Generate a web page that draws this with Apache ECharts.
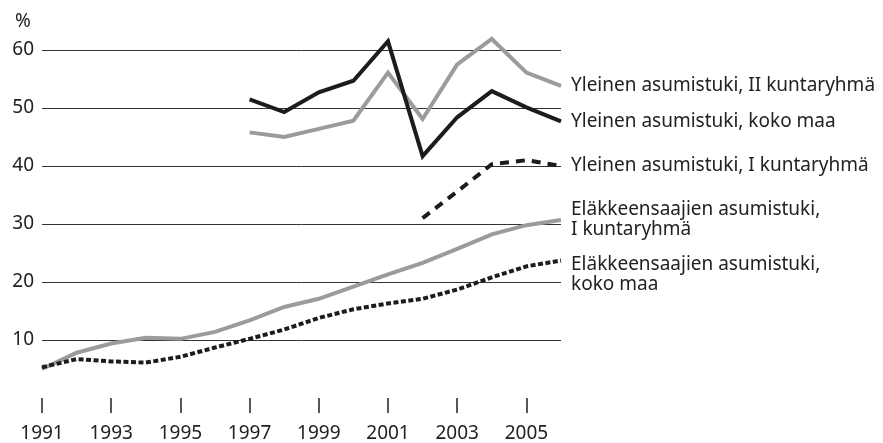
<!DOCTYPE html>
<html>
<head>
<meta charset="utf-8">
<script src="https://cdn.jsdelivr.net/npm/echarts@6/dist/echarts.min.js"></script>
<style>
  html, body { margin: 0; padding: 0; background: #fff; }
  #chart { width: 883px; height: 443px; }
</style>
</head>
<body>
<div id="chart"></div>
<script>
const years = ['1991', '1992', '1993', '1994', '1995', '1996', '1997', '1998',
  '1999', '2000', '2001', '2002', '2003', '2004', '2005', '2006']

// Yleinen asumistuki, II kuntaryhmä
const yleinenII = ['-', '-', '-', '-', '-', '-', 45.8, 45.0, 46.4, 47.8, 56.1, 48.1, 57.5, 61.9, 56.1, 53.8]
// Yleinen asumistuki, koko maa
const yleinenKoko = ['-', '-', '-', '-', '-', '-', 51.5, 49.3, 52.7, 54.7, 61.5, 41.7, 48.4, 52.9, 50.1, 47.7]
// Yleinen asumistuki, I kuntaryhmä
const yleinenI = ['-', '-', '-', '-', '-', '-', '-', '-', '-', '-', '-', 31.0, 35.6, 40.3, 41.0, 40.0]
// Eläkkeensaajien asumistuki, I kuntaryhmä
const elakeI = [5.0, 7.8, 9.4, 10.4, 10.2, 11.4, 13.4, 15.7, 17.1, 19.2, 21.3, 23.3, 25.7, 28.2, 29.8, 30.7]
// Eläkkeensaajien asumistuki, koko maa
const elakeKoko = [5.3, 6.7, 6.3, 6.1, 7.1, 8.7, 10.2, 11.8, 13.8, 15.3, 16.3, 17.1, 18.7, 20.8, 22.7, 23.7]

const yTicks = [0, 60, 10]

const names = [
  'Yleinen asumistuki, II kuntaryhmä',
  'Yleinen asumistuki, koko maa',
  'Yleinen asumistuki, I kuntaryhmä',
  'Eläkkeensaajien asumistuki,\nI kuntaryhmä',
  'Eläkkeensaajien asumistuki,\nkoko maa'
]

const FONT = '"Noto Sans", sans-serif'
const GREY = '#9b9b9b'
const BLACK = '#1c1c1c'

function makeSeries(name, data, color, type, labelDy) {
  return {
    name: name,
    type: 'line',
    data: data,
    showSymbol: false,
    symbol: 'none',
    clip: false,
    lineStyle: { color: color, width: 4, type: type, cap: 'butt', join: 'miter' },
    endLabel: {
      show: true,
      formatter: name,
      color: '#222',
      fontFamily: FONT,
      fontSize: 19,
      lineHeight: 20,
      distance: 10,
      offset: [0, labelDy],
    },
  }
}

let myChart = echarts.init(document.getElementById('chart'), null, { renderer: 'canvas' })
myChart.setOption({
  animation: false,
  title: {
    text: '%',
    left: 10,
    top: 7,
    textStyle: { color: '#222', fontFamily: FONT, fontSize: 19, fontWeight: 'normal' },
  },
  grid: { left: 42, right: 322, top: 50, bottom: 44, containLabel: false },
  xAxis: [
    {
      type: 'category',
      data: years,
      boundaryGap: false,
      axisLine: { show: false },
      axisTick: { show: true, length: 8, lineStyle: { color: '#222', width: 1.5 } },
      axisLabel: { show: false },
    },
    {
      type: 'category',
      data: years,
      boundaryGap: false,
      position: 'bottom',
      axisLine: { show: false },
      axisTick: {
        show: true,
        length: 15,
        interval: (i) => i % 2 === 0,
        lineStyle: { color: '#222', width: 1.5 },
      },
      axisLabel: {
        interval: (i) => i % 2 === 0,
        margin: 26,
        color: '#222',
        fontFamily: FONT,
        fontSize: 19,
      },
    },
  ],
  yAxis: {
    type: 'value',
    min: yTicks[0],
    max: yTicks[1],
    interval: yTicks[2],
    axisLine: { show: false },
    axisTick: { show: false },
    axisLabel: {
      margin: 8,
      color: '#222',
      fontFamily: FONT,
      fontSize: 19,
      formatter: (v) => (v === 0 ? '' : v),
    },
    splitLine: { show: true, showMinLine: false, lineStyle: { color: '#333', width: 1 } },
  },
  series: [
    makeSeries(names[0], yleinenII, GREY, 'solid', 0),
    makeSeries(names[3], elakeI, GREY, 'solid', 0),
    makeSeries(names[1], yleinenKoko, BLACK, 'solid', 0),
    makeSeries(names[2], yleinenI, BLACK, [9, 7], 0),
    makeSeries(names[4], elakeKoko, BLACK, [5, 2.5], 14),
  ],
})
</script>
</body>
</html>
